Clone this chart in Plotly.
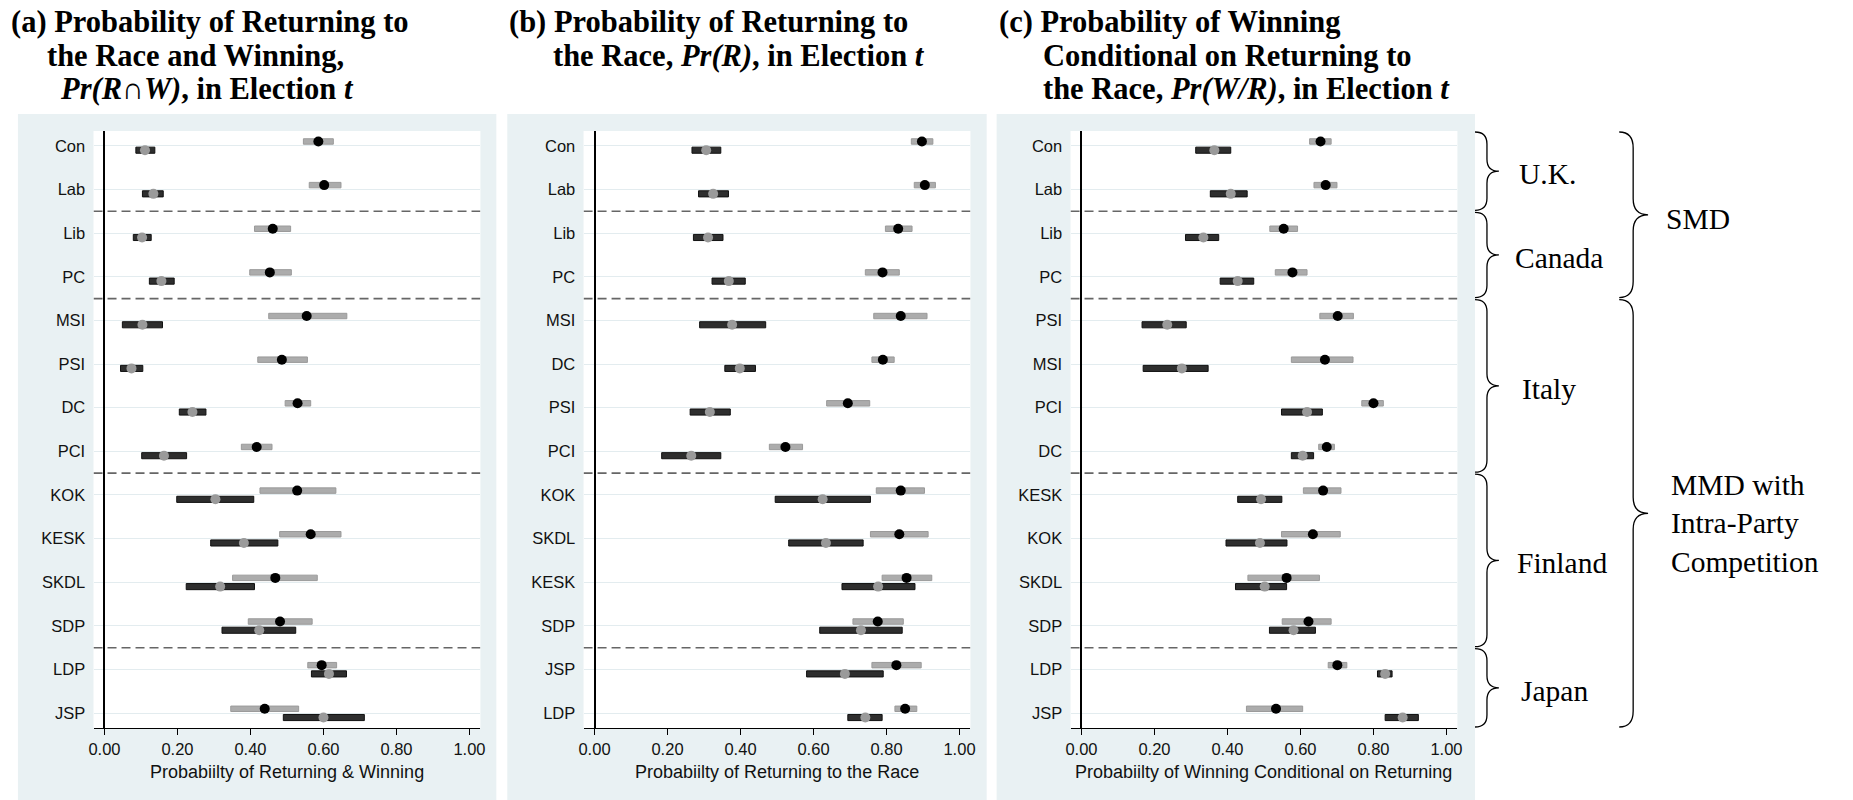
import plotly.graph_objects as go

W, H = 1853, 800

# ---- data: two estimates per party with 95% intervals ----
# group 1: black point, light interval; group 2: grey point, dark interval

a_parties = ["Con", "Lab", "Lib", "PC", "MSI", "PSI", "DC", "PCI", "KOK", "KESK", "SKDL", "SDP", "LDP", "JSP"]
a_g1_est = [0.586, 0.602, 0.461, 0.453, 0.554, 0.486, 0.529, 0.417, 0.528, 0.565, 0.468, 0.481, 0.595, 0.439]
a_g1_lo = [0.545, 0.561, 0.411, 0.398, 0.450, 0.420, 0.495, 0.375, 0.426, 0.480, 0.351, 0.394, 0.557, 0.346]
a_g1_hi = [0.627, 0.648, 0.510, 0.512, 0.664, 0.556, 0.565, 0.459, 0.634, 0.648, 0.583, 0.569, 0.636, 0.532]
a_g2_est = [0.111, 0.134, 0.103, 0.156, 0.104, 0.074, 0.241, 0.163, 0.304, 0.382, 0.317, 0.424, 0.615, 0.600]
a_g2_lo = [0.086, 0.104, 0.079, 0.123, 0.049, 0.044, 0.205, 0.102, 0.198, 0.291, 0.224, 0.322, 0.567, 0.490]
a_g2_hi = [0.138, 0.161, 0.128, 0.191, 0.159, 0.105, 0.278, 0.225, 0.409, 0.475, 0.411, 0.524, 0.663, 0.712]

b_parties = ["Con", "Lab", "Lib", "PC", "MSI", "DC", "PSI", "PCI", "KOK", "SKDL", "KESK", "SDP", "JSP", "LDP"]
b_g1_est = [0.897, 0.905, 0.832, 0.789, 0.839, 0.790, 0.694, 0.523, 0.839, 0.835, 0.855, 0.776, 0.827, 0.851]
b_g1_lo = [0.868, 0.876, 0.797, 0.742, 0.765, 0.760, 0.636, 0.479, 0.772, 0.756, 0.788, 0.708, 0.760, 0.823]
b_g1_hi = [0.927, 0.934, 0.870, 0.835, 0.911, 0.821, 0.754, 0.570, 0.904, 0.914, 0.924, 0.846, 0.895, 0.883]
b_g2_est = [0.306, 0.325, 0.311, 0.368, 0.377, 0.398, 0.316, 0.265, 0.625, 0.634, 0.777, 0.730, 0.686, 0.742]
b_g2_lo = [0.267, 0.285, 0.271, 0.322, 0.288, 0.357, 0.262, 0.184, 0.495, 0.532, 0.678, 0.617, 0.581, 0.694]
b_g2_hi = [0.346, 0.367, 0.352, 0.413, 0.469, 0.441, 0.372, 0.346, 0.756, 0.736, 0.878, 0.843, 0.791, 0.788]

c_parties = ["Con", "Lab", "Lib", "PC", "PSI", "MSI", "PCI", "DC", "KESK", "KOK", "SKDL", "SDP", "LDP", "JSP"]
c_g1_est = [0.655, 0.669, 0.554, 0.578, 0.702, 0.667, 0.800, 0.672, 0.662, 0.634, 0.562, 0.622, 0.701, 0.533]
c_g1_lo = [0.625, 0.637, 0.516, 0.531, 0.653, 0.575, 0.768, 0.650, 0.608, 0.548, 0.456, 0.550, 0.676, 0.452]
c_g1_hi = [0.684, 0.700, 0.592, 0.618, 0.745, 0.744, 0.827, 0.693, 0.711, 0.709, 0.652, 0.684, 0.727, 0.606]
c_g2_est = [0.364, 0.409, 0.334, 0.428, 0.235, 0.275, 0.618, 0.606, 0.492, 0.489, 0.502, 0.581, 0.832, 0.880]
c_g2_lo = [0.313, 0.353, 0.285, 0.380, 0.166, 0.169, 0.548, 0.575, 0.428, 0.396, 0.422, 0.515, 0.811, 0.832]
c_g2_hi = [0.409, 0.454, 0.376, 0.472, 0.287, 0.347, 0.660, 0.636, 0.549, 0.563, 0.562, 0.641, 0.851, 0.923]

countries = ["U.K.", "Canada", "Italy", "Finland", "Japan"]
country_sizes = [2, 2, 4, 4, 2]
systems = ["SMD", "MMD with<br>Intra-Party<br>Competition"]
system_sizes = [2, 3]  # number of countries in each system

x_ticks = [0.0, 0.2, 0.4, 0.6, 0.8, 1.0]
x_titles = ["Probabiilty of Returning & Winning",
            "Probabiilty of Returning to the Race",
            "Probabiilty of Winning Conditional on Returning"]

panels = [
    (a_parties, a_g1_est, a_g1_lo, a_g1_hi, a_g2_est, a_g2_lo, a_g2_hi),
    (b_parties, b_g1_est, b_g1_lo, b_g1_hi, b_g2_est, b_g2_lo, b_g2_hi),
    (c_parties, c_g1_est, c_g1_lo, c_g1_hi, c_g2_est, c_g2_lo, c_g2_hi),
]

# ---- layout geometry (pixels) ----
X_RANGE = [-0.03, 1.03]
N_ROWS = len(a_parties)
Y_RANGE = [N_ROWS - 1 + 0.34, -0.34]
PLOT_TOP, PLOT_BOT = 131, 728
plot_left = [89, 581.7, 1071.3]
plot_w = 389
bg_boxes = [(13, 494), (505, 987), (997, 1478)]
BG_TOP = 114
OFF = 0.1


def px(x):
    return x / W


def py(y):
    return 1 - y / H


SANS = "Liberation Sans, Arial, sans-serif"
SERIF = "Liberation Serif, Times New Roman, serif"

fig = go.Figure()
shapes = []
annotations = []

for k, (parties, g1e, g1l, g1h, g2e, g2l, g2h) in enumerate(panels):
    sfx = "" if k == 0 else str(k + 1)
    xa, ya = "x" + sfx, "y" + sfx
    rows = list(range(len(parties)))
    up = [r - OFF for r in rows]
    dn = [r + OFF for r in rows]

    fig.add_trace(go.Bar(
        orientation="h", y=up, base=g1l, x=[h - l for l, h in zip(g1l, g1h)],
        width=0.125, marker=dict(color="#acacac", line=dict(color="#9a9a9a", width=1)),
        xaxis=xa, yaxis=ya, showlegend=False, hoverinfo="skip"))
    fig.add_trace(go.Bar(
        orientation="h", y=dn, base=g2l, x=[h - l for l, h in zip(g2l, g2h)],
        width=0.14, marker=dict(color="#2e2e2e", line=dict(color="#111111", width=1)),
        xaxis=xa, yaxis=ya, showlegend=False, hoverinfo="skip"))
    fig.add_trace(go.Scatter(
        x=g1e, y=up, mode="markers", marker=dict(color="black", size=10),
        xaxis=xa, yaxis=ya, showlegend=False, hoverinfo="skip"))
    fig.add_trace(go.Scatter(
        x=g2e, y=dn, mode="markers", marker=dict(color="#9a9a9a", size=10),
        xaxis=xa, yaxis=ya, showlegend=False, hoverinfo="skip"))

    left = plot_left[k]
    fig.update_layout(**{
        ("xaxis" + sfx): dict(
            domain=[px(left), px(left + plot_w)], range=X_RANGE, anchor=ya,
            tickvals=x_ticks, ticktext=[f"{v:.2f}" for v in x_ticks],
            showgrid=False, zeroline=True, zerolinecolor="black", zerolinewidth=1.6,
            showline=True, linecolor="black", linewidth=1.4,
            ticks="outside", ticklen=6, tickwidth=1.2, tickcolor="black",
            tickfont=dict(family=SANS, size=16.5, color="#111"), fixedrange=True),
        ("yaxis" + sfx): dict(
            domain=[py(PLOT_BOT), py(PLOT_TOP)], range=Y_RANGE, anchor=xa,
            tickvals=rows, ticktext=parties, showgrid=True, gridcolor="#e3ecef",
            gridwidth=1.2, zeroline=False, showline=False,
            ticks="outside", ticklen=4, tickcolor="rgba(0,0,0,0)",
            tickfont=dict(family=SANS, size=16.5, color="#111"), fixedrange=True),
    })

    # panel background and white plot region
    x0, x1 = bg_boxes[k]
    shapes.append(dict(type="rect", xref="paper", yref="paper", layer="below",
                       x0=px(x0), x1=px(x1), y0=0, y1=py(BG_TOP),
                       fillcolor="#e9f1f3", line=dict(width=0)))
    shapes.append(dict(type="rect", xref="paper", yref="paper", layer="below",
                       x0=px(left), x1=px(left + plot_w), y0=py(PLOT_BOT), y1=py(PLOT_TOP),
                       fillcolor="white", line=dict(width=0)))

    # dashed separators between countries
    edge = -0.5
    for n in country_sizes[:-1]:
        edge += n
        shapes.append(dict(type="line", xref=xa, yref=ya, x0=X_RANGE[0], x1=X_RANGE[1],
                           y0=edge, y1=edge, line=dict(color="#666666", width=1.6, dash="9px,5px")))

    annotations.append(dict(
        text=x_titles[k], x=px(left + plot_w / 2), y=py(772), xref="paper", yref="paper",
        xanchor="center", yanchor="middle", showarrow=False,
        font=dict(family=SANS, size=18, color="#111")))

# ---- panel titles ----
title_lines = [
    [("(a) Probability of Returning to", 4, 22),
     ("the Race and Winning,", 40, 56),
     ("<i>Pr(R∩W)</i>, in Election <i>t</i>", 53, 89)],
    [("(b) Probability of Returning to", 505, 22),
     ("the Race, <i>Pr(R)</i>, in Election <i>t</i>", 549, 56)],
    [("(c) Probability of Winning", 997, 22),
     ("Conditional on Returning to", 1042, 56),
     ("the Race, <i>Pr(W/R)</i>, in Election <i>t</i>", 1042, 89)],
]
for lines in title_lines:
    for text, x, y in lines:
        annotations.append(dict(
            text=f"<b>{text}</b>", x=px(x), y=py(y), xref="paper", yref="paper",
            xanchor="left", yanchor="middle", showarrow=False,
            font=dict(family=SERIF, size=30.5, color="black")))


# ---- curly braces for countries and electoral systems ----
def brace(xe, xm, xt, yt, yb, r):
    yc = (yt + yb) / 2
    pts = [
        f"M {px(xe)},{py(yt)}",
        f"Q {px(xm)},{py(yt)} {px(xm)},{py(yt + r)}",
        f"L {px(xm)},{py(yc - r)}",
        f"Q {px(xm)},{py(yc)} {px(xt)},{py(yc)}",
        f"Q {px(xm)},{py(yc)} {px(xm)},{py(yc + r)}",
        f"L {px(xm)},{py(yb - r)}",
        f"Q {px(xm)},{py(yb)} {px(xe)},{py(yb)}",
    ]
    return dict(type="path", xref="paper", yref="paper", path=" ".join(pts),
                line=dict(color="black", width=1.3))


row_px = (PLOT_BOT - PLOT_TOP) / (Y_RANGE[0] - Y_RANGE[1])


def row_to_px(v):
    return PLOT_TOP + (v - Y_RANGE[1]) * row_px


bounds = [PLOT_TOP]
edge = -0.5
for n in country_sizes[:-1]:
    edge += n
    bounds.append(row_to_px(edge))
bounds.append(PLOT_BOT)

country_label_x = [1520, 1516, 1523, 1518, 1522]
for i, name in enumerate(countries):
    yt, yb = bounds[i], bounds[i + 1]
    shapes.append(brace(1478, 1490, 1502, yt + 1, yb - 1, 12))
    annotations.append(dict(
        text=name, x=px(country_label_x[i]), y=py((yt + yb) / 2 + 3), xref="paper", yref="paper",
        xanchor="left", yanchor="middle", showarrow=False,
        font=dict(family=SERIF, size=29.5, color="black")))

sys_bounds = [bounds[0], bounds[system_sizes[0]], bounds[-1]]
system_label_x = [1668, 1673]
system_label_dy = [4, 10]
for i, name in enumerate(systems):
    yt, yb = sys_bounds[i], sys_bounds[i + 1]
    shapes.append(brace(1623, 1637, 1652, yt + 1, yb - 1, 16))
    annotations.append(dict(
        text=name, x=px(system_label_x[i]), y=py((yt + yb) / 2 + system_label_dy[i]),
        xref="paper", yref="paper", xanchor="left", yanchor="middle", align="left",
        showarrow=False, font=dict(family=SERIF, size=29.5, color="black")))

fig.update_layout(
    width=W, height=H, margin=dict(l=0, r=0, t=0, b=0),
    paper_bgcolor="white", plot_bgcolor="rgba(0,0,0,0)",
    barmode="overlay", shapes=shapes, annotations=annotations,
)

fig.write_html("out.html", config={"displayModeBar": False})
